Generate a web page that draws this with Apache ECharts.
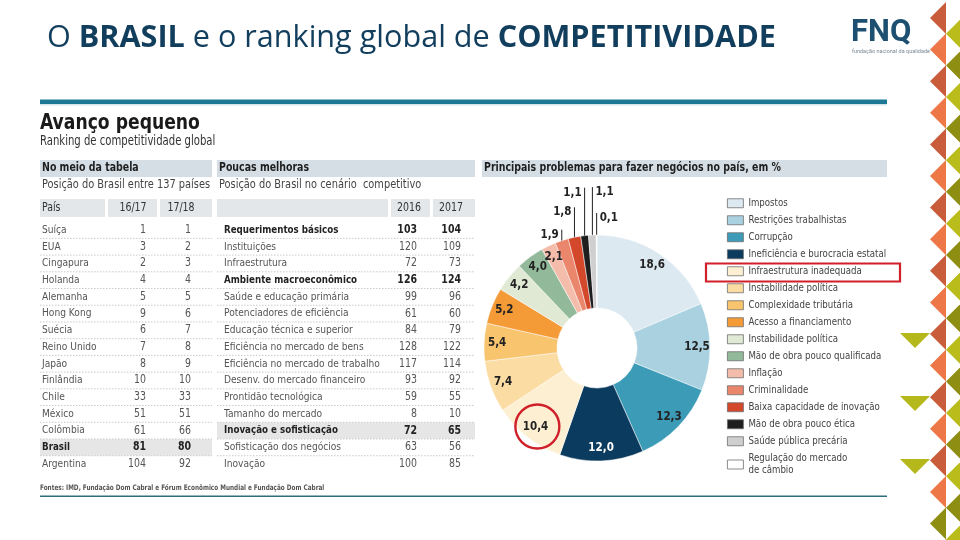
<!DOCTYPE html>
<html><head><meta charset="utf-8">
<script src="https://cdn.jsdelivr.net/npm/echarts@6/dist/echarts.min.js"></script>
<style>html,body{margin:0;padding:0;background:#fff}#c{width:960px;height:540px}</style>
</head><body><div id="c"></div>
<script>
// ---------- data ----------
const countries = ['Suíça','EUA','Cingapura','Holanda','Alemanha','Hong Kong','Suécia','Reino Unido','Japão','Finlândia','Chile','México','Colômbia','Brasil','Argentina'];
const rank1617 = [1,3,2,4,5,9,6,7,8,10,33,51,61,81,104];
const rank1718 = [1,2,3,4,5,6,7,8,9,10,33,51,66,80,92];
const tableHeader1 = ['País','16/17','17/18'];

const pillars = ['Requerimentos básicos','Instituições','Infraestrutura','Ambiente macroeconômico','Saúde e educação primária','Potenciadores de eficiência','Educação técnica e superior','Eficiência no mercado de bens','Eficiência no mercado de trabalho','Desenv. do mercado financeiro','Prontidão tecnológica','Tamanho do mercado','Inovação e sofisticação','Sofisticação dos negócios','Inovação'];
const pos2016 = [103,120,72,126,99,61,84,128,117,93,59,8,72,63,100];
const pos2017 = [104,109,73,124,96,60,79,122,114,92,55,10,65,56,85];
const tableHeader2 = ['','2016','2017'];
const boldPillars = ['Requerimentos básicos','Ambiente macroeconômico','Inovação e sofisticação'];

const problems = ['Impostos','Restrições trabalhistas','Corrupção','Ineficiência e burocracia estatal','Infraestrutura inadequada','Instabilidade política','Complexidade tributária','Acesso a financiamento','Instabilidade política\u200b','Mão de obra pouco qualificada','Inflação','Criminalidade','Baixa capacidade de inovação','Mão de obra pouco ética','Saúde pública precária','Regulação do mercado\nde câmbio'];
const shares = [18.6,12.5,12.3,12.0,10.4,7.4,5.4,5.2,4.2,4.0,2.1,1.9,1.8,1.1,1.1,0.1];

// ---------- styles / layout ----------
const pieColors = ['#dde9f1','#a9d1df','#3c9cb8','#0b3b5e','#fdf0d2','#fbdca3','#f8c46e','#f49b37','#dfe9d3','#92b99a','#f4bcaa','#e9866c','#d3472b','#1e1e1e','#cfcfcf','#ffffff'];
const NARROW = "'Liberation Sans Narrow','DejaVu Sans Condensed','Roboto',sans-serif";
const SX = 0.91;
const CX = 597, CY = 348, R0 = 40, R1 = 113, RLAB = 97;
const ROW0 = 230, PITCH = 16.72;
const T1 = {x0:40, x1:212, name:42, c1:146, c2:191, hdr:[[40,105],[108,157],[160,212]], hc:[42,133,181]};
const T2 = {x0:217, x1:475, name:224, c1:417, c2:461, hdr:[[217,388],[391,430],[433,475]], hc:[0,409,451]};
// label placement for the thin slices: len = leader length (0 = no leader), side = text side
const leaders = {10:{len:0,side:0,r:101},11:{len:11,side:-1},12:{len:30,side:-1},13:{len:48,side:-1},14:{len:48,side:1},15:{len:22,side:1}};

const total = shares.reduce((a,b)=>a+b,0);
function midAngle(i){ let c=0; for(let j=0;j<i;j++) c+=shares[j]; return (c+shares[i]/2)/total*2*Math.PI; }
const fmt = v => v.toFixed(1).replace('.',',');

// ---------- graphics ----------
const g = [];
function T(x,y,s,o,sx){ g.push({type:'text', x, y, scaleX: sx===undefined?SX:sx, silent:true, z:10, style:Object.assign({text:s, fill:'#555', fontSize:11, fontFamily:NARROW, verticalAlign:'middle', align:'left'}, o||{})}); }
function R(x,y,w,h,fill,z){ g.push({type:'rect', silent:true, z:z||1, shape:{x,y,width:w,height:h}, style:{fill}}); }
function L(x1,y1,x2,y2,stroke,w,dash){ g.push({type:'line', silent:true, z:2, shape:{x1,y1,x2,y2}, style:{stroke, lineWidth:w, lineDash:dash||null}}); }

// title
g.push({type:'text', x:47, y:38, silent:true, style:{
  text:'{r|O }{b|BRASIL}{r| e o ranking global de }{b|COMPETITIVIDADE}', verticalAlign:'middle',
  rich:{ r:{fontSize:30.6, fontFamily:'Open Sans', fill:'#123e5e', color:'#123e5e'},
         b:{fontSize:30.6, fontFamily:'Open Sans', fontWeight:'bold', fill:'#123e5e', color:'#123e5e'} }}});
// logo
T(851, 33, 'FNQ', {fontSize:31, fontWeight:'bold', fontFamily:'Roboto', fill:'#1d4f70'}, 1);
T(852, 52, 'fundação nacional da qualidade', {fontSize:5.5, fontFamily:'Roboto', fill:'#7a8a96'}, 1);
// top rule
R(40, 99.5, 847, 4.5, '#1c7894');
R(40, 104, 847, 1.5, '#d4e6ec');

// heading
T(40, 124, 'Avanço pequeno', {fontSize:21, fontWeight:'bold', fill:'#1a1a1a'}, 0.91);
T(40, 141, 'Ranking de competitividade global', {fontSize:13.5, fill:'#333'}, 0.83);

// section bands
[[40,212,'No meio da tabela'],[217,475,'Poucas melhoras'],[482,887,'Principais problemas para fazer negócios no país, em %']].forEach(b=>{
  R(b[0], 160, b[1]-b[0], 17, '#d5dee4');
  T(b[0]+2, 168.5, b[2], {fontSize:11.5, fontWeight:'bold', fill:'#1e1e1e'});
});
T(42, 185, 'Posição do Brasil entre 137 países', {fontSize:11.5, fill:'#444'}, 0.95);
T(219, 185, 'Posição do Brasil no cenário  competitivo', {fontSize:11.5, fill:'#444'}, 0.95);

function table(tb, header, names, a, b, boldSet, hiName){
  tb.hdr.forEach((h,k)=>{ R(h[0],199,h[1]-h[0],18,'#e4e7e9'); });
  header.forEach((s,k)=>{ if(!s) return; T(tb.hc[k], 208, s, {fontSize:11.5, fill:'#333', align:k===0?'left':'center'}); });
  names.forEach((n,i)=>{
    const y = ROW0 + PITCH*i;
    const bold = boldSet.indexOf(n)>=0;
    if(n===hiName) R(tb.x0, y-8.2, tb.x1-tb.x0, 16.4, '#e6e6e6');
    if(i<names.length-1) L(tb.x0, y+PITCH/2, tb.x1, y+PITCH/2, '#bdbdbd', 0.8, [1.5,1.5]);
    const o = bold ? {fontWeight:'bold', fill:'#222'} : {};
    T(tb.name, y, n, Object.assign({}, o), bold ? 0.88 : 0.92);
    T(tb.c1, y, String(a[i]), Object.assign({align:'right', fontSize:11.5}, o));
    T(tb.c2, y, String(b[i]), Object.assign({align:'right', fontSize:11.5}, o));
  });
}
table(T1, tableHeader1, countries, rank1617, rank1718, ['Brasil'], 'Brasil');
table(T2, tableHeader2, pillars, pos2016, pos2017, boldPillars, 'Inovação e sofisticação');

// footer
T(40, 488, 'Fontes: IMD, Fundação Dom Cabral e Fórum Econômico Mundial e Fundação Dom Cabral', {fontSize:7.5, fontWeight:'bold', fill:'#555'}, 0.85);
R(40, 495.5, 847, 1.6, '#2e6d7e');

// highlights
g.push({type:'rect', silent:true, z:20, shape:{x:706, y:263.5, width:194, height:18}, style:{fill:'none', stroke:'#d0202a', lineWidth:2.2}});
(function(){ const a = midAngle(4); g.push({type:'circle', silent:true, z:20, shape:{cx:CX+RLAB*Math.sin(a), cy:CY-RLAB*Math.cos(a)+2, r:22}, style:{fill:'none', stroke:'#d0202a', lineWidth:2.4}}); })();

// decorative edge
for(let k=0;k<18;k++){
  const c = 18 + 31.6*k;
  const col = k===16 ? '#8d8e12' : (k%2===0 ? '#c95c3b' : '#ee7748');
  g.push({type:'polygon', silent:true, shape:{points:[[946,c-16],[930,c],[946,c+16]]}, style:{fill:col}});
  const c2 = c + 15.8;
  g.push({type:'polygon', silent:true, shape:{points:[[962,c2-16],[946,c2],[962,c2+16]]}, style:{fill:k%2===0?'#b9bc1a':'#8d8e12'}});
}
[333,396,459].forEach(y=>g.push({type:'polygon', silent:true, shape:{points:[[900,y],[930,y],[915,y+15]]}, style:{fill:'#b5b81a'}}));

// ---------- chart ----------
const chart = echarts.init(document.getElementById('c'), null, {renderer:'canvas'});
chart.setOption({
  animation:false,
  backgroundColor:'#fff',
  legend:{
    orient:'vertical', left:727, top:197, padding:0, itemWidth:16, itemHeight:9, itemGap:4.5, icon:'rect',
    selectedMode:false, data:problems,
    itemStyle:{borderColor:'#6f6f6f', borderWidth:0.8},
    formatter: n => n.replace('\u200b',''),
    textStyle:{fontSize:9.6, color:'#444', fontFamily:NARROW, lineHeight:12.5}
  },
  series:[
    { type:'pie', center:[CX,CY], radius:[R0,R1], startAngle:90, clockwise:true, silent:true,
      itemStyle:{borderColor:'#fff', borderWidth:0.5},
      label:{show:false}, labelLine:{show:false},
      data: shares.map((v,i)=>{
        const d = {name:problems[i], value:v, itemStyle:{color:pieColors[i]}};
        if(leaders[i]){
          d.label = {show:true, position:'outside', formatter:fmt(v), fontSize:11.5, fontWeight:'bold', color:'#222', fontFamily:NARROW};
          d.labelLine = {show: leaders[i].len>0, length:5, length2:0, lineStyle:{color:'#222', width:1}};
        }
        return d;
      }),
      labelLayout: function(p){
        const ld = leaders[p.dataIndex];
        if(!ld) return {};
        const a = midAngle(p.dataIndex);
        if(!ld.len){
          return { x: CX + ld.r*Math.sin(a), y: CY - ld.r*Math.cos(a), align:'center', verticalAlign:'middle' };
        }
        const px = CX + R1*Math.sin(a), py = CY - R1*Math.cos(a) + 1;
        const top = py - ld.len - 1;
        return { x: px + ld.side*3, y: top + 5, align: ld.side<0?'right':'left', verticalAlign:'middle',
                 labelLinePoints:[[px,py],[px,top],[px,top]] };
      }
    },
    { type:'pie', center:[CX,CY], radius:[81,113], startAngle:90, clockwise:true, silent:true,
      itemStyle:{color:'rgba(0,0,0,0)'}, labelLine:{show:false},
      label:{show:true, position:'inside', fontSize:11.5, fontWeight:'bold', color:'#222', fontFamily:NARROW},
      data: shares.map((v,i)=>({name:problems[i], value:v,
        label: leaders[i] ? {show:false} : {show:true, formatter:fmt(v), color: i===3?'#fff':'#222'}}))
    }
  ],
  graphic: g
});
</script></body></html>
